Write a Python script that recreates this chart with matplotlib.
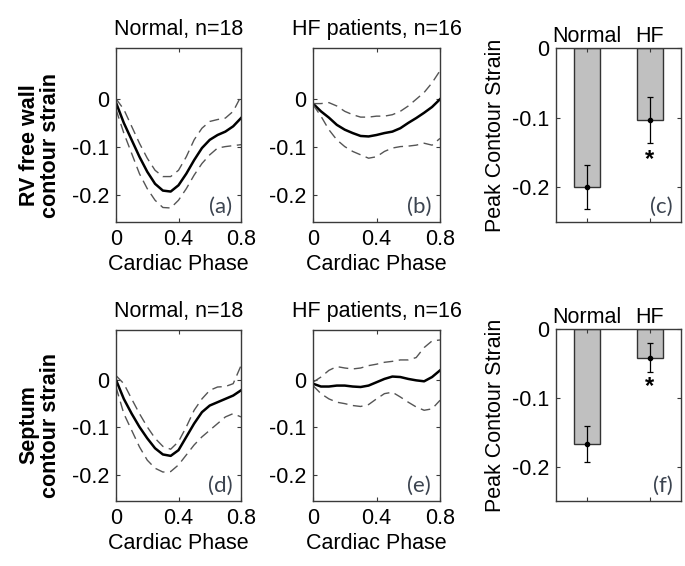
import matplotlib
matplotlib.use("Agg")
import matplotlib.pyplot as plt
import numpy as np

plt.rcParams['font.family'] = ['Liberation Sans', 'DejaVu Sans']

# ---------------- data ----------------
phase = [0.0, 0.05, 0.1, 0.15, 0.2, 0.25, 0.3, 0.35, 0.4, 0.45, 0.5, 0.55, 0.6, 0.65, 0.7, 0.75, 0.8]

rv_normal_mean = [-0.008, -0.05, -0.085, -0.12, -0.151, -0.176, -0.19, -0.192, -0.179, -0.155, -0.127, -0.102, -0.085, -0.075, -0.068, -0.057, -0.04]
rv_normal_up = [0.0, -0.022, -0.057, -0.092, -0.123, -0.148, -0.161, -0.161, -0.148, -0.12, -0.085, -0.061, -0.047, -0.043, -0.04, -0.026, 0.005]
rv_normal_lo = [-0.022, -0.071, -0.113, -0.155, -0.186, -0.21, -0.225, -0.226, -0.21, -0.186, -0.158, -0.134, -0.116, -0.102, -0.099, -0.097, -0.095]

rv_hf_mean = [-0.01, -0.026, -0.039, -0.054, -0.064, -0.071, -0.077, -0.078, -0.075, -0.071, -0.068, -0.061, -0.05, -0.04, -0.029, -0.017, -0.001]
rv_hf_up = [-0.01, -0.01, -0.008, -0.015, -0.026, -0.033, -0.038, -0.038, -0.036, -0.036, -0.033, -0.026, -0.015, -0.001, 0.013, 0.033, 0.058]
rv_hf_lo = [-0.012, -0.036, -0.064, -0.085, -0.099, -0.109, -0.116, -0.123, -0.12, -0.109, -0.102, -0.099, -0.098, -0.096, -0.092, -0.096, -0.082]

sep_normal_mean = [0.0, -0.04, -0.071, -0.099, -0.123, -0.144, -0.157, -0.16, -0.148, -0.12, -0.092, -0.068, -0.054, -0.047, -0.04, -0.033, -0.022]
sep_normal_up = [0.009, -0.008, -0.04, -0.071, -0.099, -0.123, -0.14, -0.146, -0.13, -0.099, -0.064, -0.04, -0.022, -0.015, -0.014, -0.008, 0.03]
sep_normal_lo = [-0.015, -0.071, -0.106, -0.141, -0.169, -0.186, -0.194, -0.193, -0.179, -0.158, -0.137, -0.12, -0.106, -0.092, -0.078, -0.071, -0.078]

sep_hf_mean = [-0.008, -0.014, -0.014, -0.012, -0.012, -0.014, -0.015, -0.012, -0.005, 0.002, 0.007, 0.006, 0.002, -0.001, -0.003, 0.006, 0.02]
sep_hf_up = [-0.005, 0.006, 0.02, 0.028, 0.025, 0.023, 0.025, 0.03, 0.033, 0.037, 0.039, 0.042, 0.042, 0.047, 0.068, 0.082, 0.084]
sep_hf_lo = [-0.012, -0.029, -0.04, -0.047, -0.05, -0.054, -0.056, -0.052, -0.04, -0.029, -0.026, -0.036, -0.047, -0.057, -0.064, -0.061, -0.043]

groups = ["Normal", "HF"]
rv_peak = [-0.2, -0.103]
rv_peak_err = [0.032, 0.033]
sep_peak = [-0.167, -0.042]
sep_peak_err = [0.026, 0.021]
rv_star = -0.16
sep_star = -0.083

W, H = 685, 566
fig = plt.figure(figsize=(W / 100, H / 100), dpi=100)

def rect(x0, y0, x1, y1):
    return [x0 / W, 1 - y1 / H, (x1 - x0) / W, (y1 - y0) / H]

FS = 15.5
FRAME = '#3a3a3a'
LBLC = '#3c4450'

def style(ax):
    for s in ax.spines.values():
        s.set_color(FRAME)
        s.set_linewidth(1.0)
    ax.tick_params(direction='in', length=3, width=0.8, color=FRAME,
                   top=True, right=True, labelsize=FS, pad=5)

def curve_panel(box, mean, up, lo, title, tag):
    ax = fig.add_axes(rect(*box))
    ax.plot(phase, mean, color='black', lw=1.8)
    ax.plot(phase, up, color='#555555', lw=1.0, ls=(0, (7, 4)))
    ax.plot(phase, lo, color='#555555', lw=1.0, ls=(0, (7, 4)))
    ax.set_xlim(0, 0.8)
    ax.set_ylim(-0.255, 0.105)
    ax.set_xticks([0, 0.4, 0.8])
    ax.set_xticklabels(['0', '0.4', '0.8'])
    ax.set_yticks([-0.2, -0.1, 0])
    ax.set_yticklabels(['-0.2', '-0.1', '0'])
    style(ax)
    ax.set_title(title, fontsize=FS, pad=9)
    ax.set_xlabel('Cardiac Phase', fontsize=FS, labelpad=3)
    ax.text(0.93, 0.03, tag, transform=ax.transAxes, ha='right', va='bottom',
            fontsize=16, color=LBLC, family=['Lato', 'DejaVu Sans'])
    return ax

def bar_panel(box, vals, errs, star, tag):
    ax = fig.add_axes(rect(*box))
    x = np.arange(1, len(groups) + 1)
    ax.bar(x, vals, width=0.42, color='#c0c0c0', edgecolor='#333333', linewidth=1.0)
    ax.errorbar(x, vals, yerr=errs, fmt='o', color='black', ms=3, capsize=2.5,
                elinewidth=0.9, capthick=0.9)
    ax.text(2, star, '*', ha='center', va='center', fontsize=17, fontweight='bold')
    ax.set_xlim(0.5, 2.5)
    ax.set_ylim(-0.25, 0)
    ax.set_xticks(x)
    ax.set_yticks([-0.2, -0.1, 0])
    ax.set_yticklabels(['-0.2', '-0.1', '0'])
    style(ax)
    ax.tick_params(axis='x', labelbottom=False, labeltop=True, pad=1)
    ax.set_xticklabels(groups)
    ax.set_ylabel('Peak Contour Strain', fontsize=FS, labelpad=4)
    ax.text(0.93, 0.03, tag, transform=ax.transAxes, ha='right', va='bottom',
            fontsize=16, color=LBLC, family=['Lato', 'DejaVu Sans'])
    return ax

curve_panel((116, 48, 241, 222), rv_normal_mean, rv_normal_up, rv_normal_lo, 'Normal, n=18', '(a)')
curve_panel((313, 48, 440, 222), rv_hf_mean, rv_hf_up, rv_hf_lo, 'HF patients, n=16', '(b)')
bar_panel((556, 48, 681, 222), rv_peak, rv_peak_err, rv_star, '(c)')
curve_panel((116, 330, 241, 501), sep_normal_mean, sep_normal_up, sep_normal_lo, 'Normal, n=18', '(d)')
curve_panel((313, 330, 440, 501), sep_hf_mean, sep_hf_up, sep_hf_lo, 'HF patients, n=16', '(e)')
bar_panel((556, 329, 681, 501), sep_peak, sep_peak_err, sep_star, '(f)')

fig.text(40 / W, 1 - 145 / H, 'RV free wall\ncontour strain', rotation=90, ha='center', va='center',
         fontsize=FS, fontweight='bold', linespacing=1.05)
fig.text(40 / W, 1 - 425 / H, 'Septum\ncontour strain', rotation=90, ha='center', va='center',
         fontsize=FS, fontweight='bold', linespacing=1.05)

fig.savefig('out.png', dpi=100, facecolor='white')
